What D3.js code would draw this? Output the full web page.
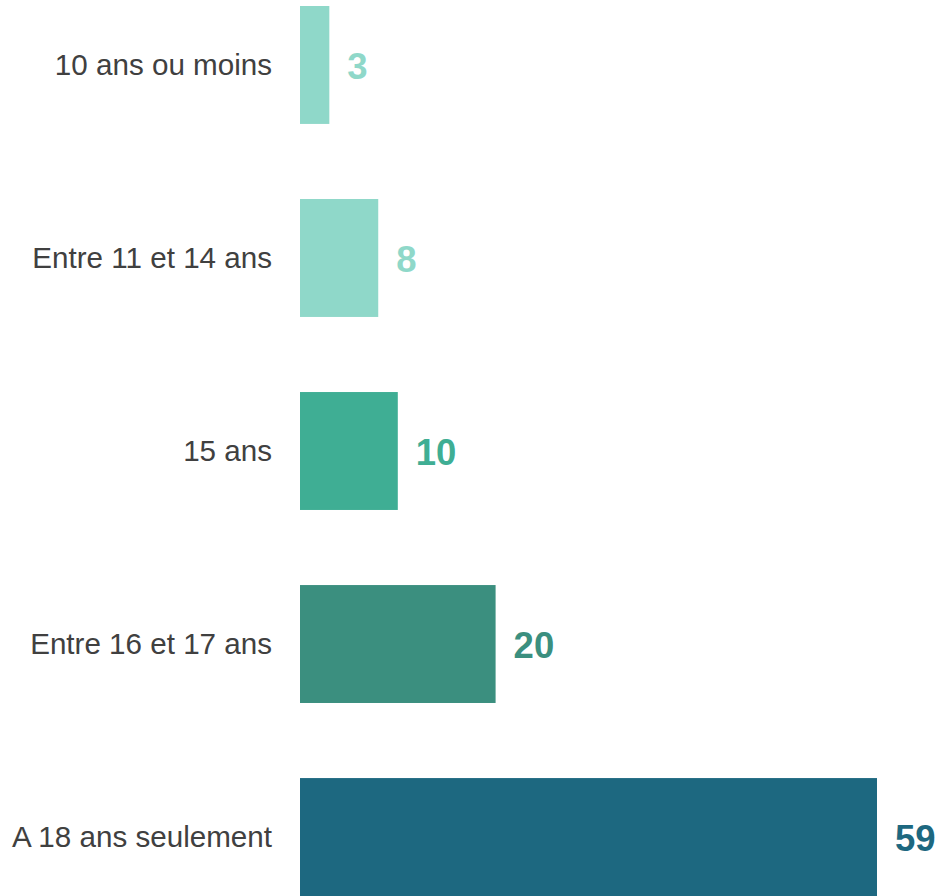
<!DOCTYPE html>
<html>
<head>
<meta charset="utf-8">
<script src="https://cdn.jsdelivr.net/npm/d3@7"></script>
<style>
  html, body { margin: 0; padding: 0; background: #fff; }
  svg { display: block; font-family: "Liberation Sans", Arial, sans-serif; }
</style>
</head>
<body>
<div id="chart"></div>
<script>
var categories = ['10 ans ou moins', 'Entre 11 et 14 ans', '15 ans', 'Entre 16 et 17 ans', 'A 18 ans seulement'];
var values = [3, 8, 10, 20, 59];
var colors = ['#8fd8c9', '#8fd8c9', '#3fae94', '#3b8f7f', '#1d6880'];

var width = 941;
var height = 896;

var svg = d3.select('#chart')
  .append('svg')
  .attr('width', width)
  .attr('height', height);

// bars begin at 300, the 59 bar ends near 877
var x = d3.scaleLinear()
  .domain([0, 59])
  .range([300, 877]);

var y = d3.scaleBand()
  .domain(categories)
  .range([6, 896])
  .paddingInner(0.389)
  .paddingOuter(0);

var rows = svg.selectAll('g.row')
  .data(categories)
  .enter()
  .append('g')
  .attr('class', 'row');

rows.append('rect')
  .attr('x', x(0))
  .attr('y', function(d) { return y(d); })
  .attr('width', function(d, i) { return x(values[i]) - x(0); })
  .attr('height', y.bandwidth())
  .attr('fill', function(d, i) { return colors[i]; });

rows.append('text')
  .attr('x', 272)
  .attr('y', function(d) { return y(d) + y.bandwidth() / 2 + 10; })
  .attr('text-anchor', 'end')
  .style('font-size', '29.6px')
  .style('fill', '#404040')
  .text(function(d) { return d; });

rows.append('text')
  .attr('x', function(d, i) { return x(values[i]) + 18; })
  .attr('y', function(d) { return y(d) + y.bandwidth() / 2 + 14; })
  .style('font-size', '36.5px')
  .style('font-weight', 'bold')
  .style('fill', function(d, i) { return colors[i]; })
  .text(function(d, i) { return values[i]; });
</script>
</body>
</html>
